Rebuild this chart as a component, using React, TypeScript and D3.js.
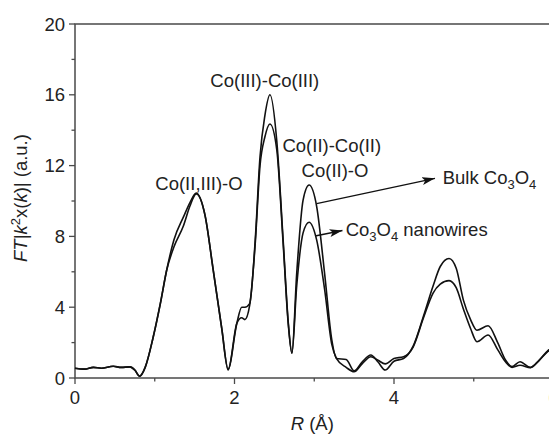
import * as d3 from 'd3';

// R grid (Å) shared by both spectra
const rGrid = [
  0, 0.12, 0.23, 0.33, 0.48, 0.58, 0.69, 0.75, 0.81, 0.88,
  0.98, 1.07, 1.15, 1.24, 1.36, 1.44, 1.52, 1.63, 1.73, 1.84,
  1.92, 2.03, 2.09, 2.13, 2.19, 2.26, 2.32, 2.38, 2.445, 2.53,
  2.61, 2.675, 2.72, 2.78, 2.86, 2.935, 3.03, 3.13, 3.22, 3.28,
  3.4, 3.5, 3.6, 3.71, 3.8, 3.89, 4.0, 4.12, 4.24, 4.37,
  4.49, 4.58, 4.69, 4.78, 4.87, 4.96, 5.04, 5.18, 5.3, 5.4,
  5.48, 5.58, 5.71, 5.82, 5.93, 6.0,
];

const bulkCo3O4 = [
  0.55, 0.5, 0.6, 0.55, 0.66, 0.6, 0.63, 0.45, 0.1, 0.6,
  2.3, 4.2, 6.1, 7.8, 9.1, 9.9, 10.45, 9.2, 6.2, 2.8,
  0.5, 3.1, 4.0, 4.0, 4.2, 7.8, 12.5, 14.8, 16.0, 13.4,
  7.8, 3.1, 1.4, 5.9, 10.05, 10.9, 9.7, 5.9, 2.15, 1.1,
  1.05, 0.4, 0.9, 1.3, 0.9, 0.45, 0.95, 1.1, 1.8, 3.5,
  5.2, 6.3, 6.75, 6.2, 4.4, 3.3, 2.7, 2.95, 2.0, 1.0,
  0.64, 0.92, 0.6, 1.0, 1.55, 1.75,
];

const nanowires = [
  0.55, 0.5, 0.6, 0.55, 0.66, 0.6, 0.63, 0.45, 0.1, 0.6,
  2.3, 4.2, 6.1, 7.4, 8.6, 9.7, 10.4, 9.2, 6.2, 2.8,
  0.45, 3.1, 3.4, 3.3, 4.1, 7.6, 12.0, 13.6, 14.35, 12.9,
  7.6, 3.0, 1.4, 5.2, 8.2, 8.8, 7.8, 5.0, 1.9, 1.1,
  0.6, 0.35, 0.8, 1.2, 1.0, 0.8, 1.1, 1.2, 1.75, 3.4,
  4.8, 5.3, 5.5, 5.1, 3.9, 2.8, 2.05, 2.43, 1.6, 0.9,
  0.6, 0.72, 0.58, 1.0, 1.5, 1.7,
];

const xTicks = [0, 2, 4, 6];
const xMinor = [1, 3, 5];
const yTicks = [0, 4, 8, 12, 16, 20];
const yMinor = [2, 6, 10, 14, 18];

const peakLabels = [
  { text: 'Co(II,III)-O', r: 1.555, v: 10.62 },
  { text: 'Co(III)-Co(III)', r: 2.38, v: 16.44 },
  { text: 'Co(II)-Co(II)', r: 3.22, v: 12.77 },
  { text: 'Co(II)-O', r: 3.26, v: 11.36 },
];

const FONT = '"Liberation Sans", Arial, sans-serif';
const AXIS = '#4a4a4a';
const INK = '#111';

export default function App() {
  const x = d3.scaleLinear().domain([0, 6]).range([75, 553.5]);
  const y = d3.scaleLinear().domain([0, 20]).range([378, 24]);

  const line = d3.line<number>()
    .x((_, i) => x(rGrid[i]))
    .y(d => y(d))
    .curve(d3.curveMonotoneX);

  const [x0, x1] = x.range();
  const [y0, y1] = y.range();

  return (
    <svg
      width={549}
      height={434}
      style={{ position: 'absolute', left: 0, top: 0, background: '#fff' }}
      fontFamily={FONT}
    >
      <defs>
        <marker
          id="arrow"
          viewBox="0 0 13 8"
          refX={13}
          refY={4}
          markerWidth={13}
          markerHeight={8}
          markerUnits="userSpaceOnUse"
          orient="auto"
        >
          <path d="M0,0 L13,4 L0,8 L3,4 Z" fill={INK} />
        </marker>
      </defs>

      {/* frame */}
      <rect x={x0} y={y1} width={x1 - x0} height={y0 - y1} fill="none" stroke={AXIS} strokeWidth={1.5} />

      {/* x ticks */}
      {xTicks.map(t => (
        <g key={'xt' + t}>
          <line x1={x(t)} x2={x(t)} y1={y0} y2={y0 + 6} stroke={AXIS} strokeWidth={1.3} />
          <text x={x(t)} y={y0 + 26} textAnchor="middle" fontSize={18.5} fill="#222">{t}</text>
        </g>
      ))}
      {xMinor.map(t => (
        <line key={'xm' + t} x1={x(t)} x2={x(t)} y1={y0} y2={y0 + 3.5} stroke={AXIS} strokeWidth={1.3} />
      ))}

      {/* y ticks */}
      {yTicks.map(t => (
        <g key={'yt' + t}>
          <line x1={x0 - 6} x2={x0} y1={y(t)} y2={y(t)} stroke={AXIS} strokeWidth={1.3} />
          <text x={x0 - 10} y={y(t) + 6.5} textAnchor="end" fontSize={18.5} fill="#222">{t}</text>
        </g>
      ))}
      {yMinor.map(t => (
        <line key={'ym' + t} x1={x0 - 3.5} x2={x0} y1={y(t)} y2={y(t)} stroke={AXIS} strokeWidth={1.3} />
      ))}

      {/* axis titles */}
      <text x={(x0 + x1) / 2 - 2} y={430} textAnchor="middle" fontSize={18.5} fill="#222">
        <tspan fontStyle="italic">R</tspan> (Å)
      </text>
      <text
        transform={`translate(27,${(y0 + y1) / 2 - 3}) rotate(-90)`}
        textAnchor="middle"
        fontSize={18.5}
        fill="#222"
      >
        <tspan fontStyle="italic">FT</tspan>|<tspan fontStyle="italic">k</tspan>
        <tspan fontSize={13} dy={-7}>2</tspan>
        <tspan dy={7}>x(</tspan><tspan fontStyle="italic">k</tspan>)| (a.u.)
      </text>

      {/* spectra */}
      <path d={line(bulkCo3O4) || ''} fill="none" stroke={INK} strokeWidth={1.6} />
      <path d={line(nanowires) || ''} fill="none" stroke={INK} strokeWidth={1.6} />

      {/* peak labels */}
      {peakLabels.map(p => (
        <text key={p.text} x={x(p.r)} y={y(p.v)} textAnchor="middle" fontSize={18.5} fill="#222">
          {p.text}
        </text>
      ))}

      {/* legend arrows */}
      <line x1={x(3.03)} y1={y(9.85)} x2={x(4.514)} y2={y(11.28)} stroke={INK} strokeWidth={1.4} markerEnd="url(#arrow)" />
      <line x1={x(3.01)} y1={y(8.02)} x2={x(3.354)} y2={y(8.33)} stroke={INK} strokeWidth={1.4} markerEnd="url(#arrow)" />

      <text x={x(4.61)} y={y(10.96)} fontSize={18.5} fill="#222">
        Bulk Co<tspan fontSize={13} dy={5}>3</tspan><tspan dy={-5}>O</tspan><tspan fontSize={13} dy={5}>4</tspan>
      </text>
      <text x={x(3.394)} y={y(8.02)} fontSize={18.5} fill="#222">
        Co<tspan fontSize={13} dy={5}>3</tspan><tspan dy={-5}>O</tspan><tspan fontSize={13} dy={5}>4</tspan>
        <tspan dy={-5}> nanowires</tspan>
      </text>
    </svg>
  );
}
